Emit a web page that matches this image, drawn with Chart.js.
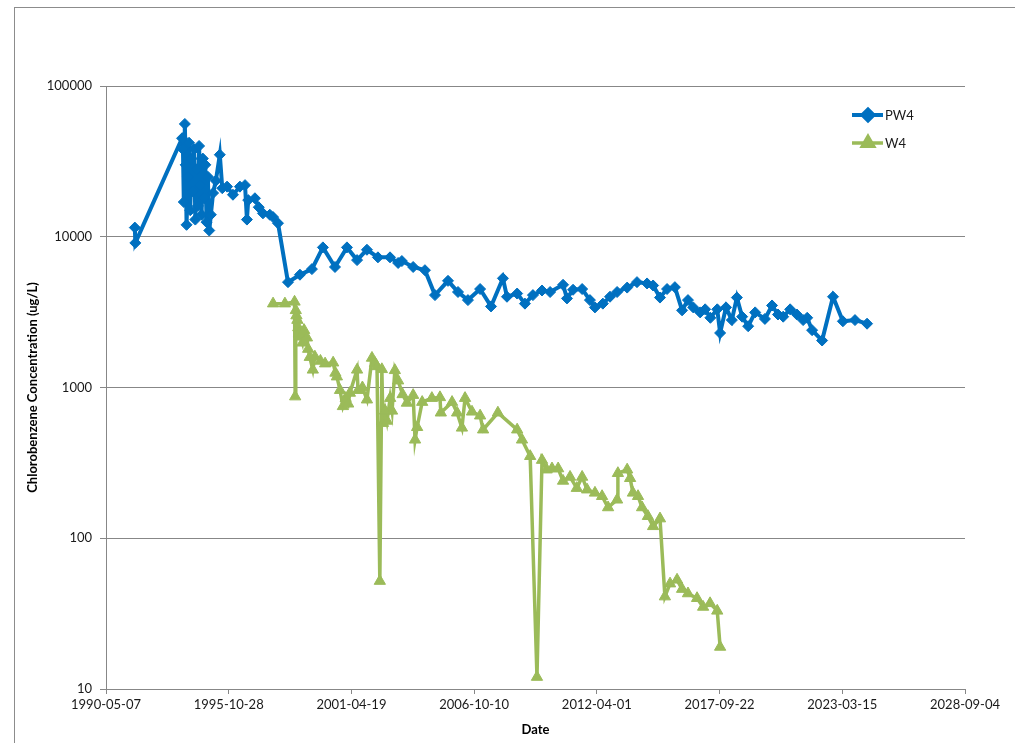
<!DOCTYPE html>
<html>
<head>
<meta charset="utf-8">
<script src="https://cdn.jsdelivr.net/npm/chart.js@4.4.1/dist/chart.umd.min.js"></script>
<style>
  html, body { margin: 0; padding: 0; background: #fff; }
  #wrap { width: 1015px; height: 743px; position: relative; }
  canvas { display: block; }
</style>
</head>
<body>
<div id="wrap"><canvas id="chart" width="1015" height="743"></canvas></div>
<script>
// Sampling dates and concentrations (ug/L) for well PW4
const pw4Dates = [
  "1991-08-20","1991-08-28","1993-09-28","1993-10-12","1993-10-26","1993-11-12","1993-11-26","1993-12-10",
  "1994-01-02","1994-01-20","1994-02-08","1994-03-01","1994-03-22","1994-04-12","1994-05-02","1994-05-22",
  "1994-06-12","1994-07-02","1994-07-22","1994-08-12","1994-09-01","1994-09-22","1994-10-12","1994-11-01",
  "1994-11-22","1994-12-15","1995-01-10","1995-02-15","1995-04-01","1995-06-05","1995-07-15","1995-10-01",
  "1996-01-05","1996-04-28","1996-07-20","1996-08-20","1996-09-10","1996-12-28","1997-03-01","1997-05-08",
  "1997-08-28","1997-10-20","1998-01-08","1998-06-20","1999-01-01","1999-07-15","2000-01-10","2000-07-25",
  "2001-02-05","2001-07-20","2001-12-28","2002-06-25","2003-01-08","2003-05-20","2003-07-20","2004-01-20",
  "2004-07-30","2005-01-10","2005-08-10","2006-01-20","2006-07-01","2007-01-15","2007-07-12","2008-01-22",
  "2008-03-28","2008-09-10","2009-01-15","2009-05-25","2009-10-20","2010-03-01","2010-09-28","2010-12-01",
  "2011-03-10","2011-08-05","2011-12-10","2012-03-01","2012-07-08","2012-11-01","2013-02-25","2013-08-08",
  "2014-01-15","2014-06-28","2014-10-05","2015-01-25","2015-05-20","2015-09-25","2016-01-20","2016-04-25",
  "2016-07-20","2016-11-10","2017-01-30","2017-04-25","2017-08-15","2017-10-01","2018-01-05","2018-04-10",
  "2018-07-01","2018-09-25","2019-01-01","2019-04-25","2019-10-01","2020-01-25","2020-05-01","2020-07-25",
  "2020-11-15","2021-03-05","2021-06-15","2021-08-20","2021-11-08","2022-04-20","2022-10-15","2023-03-25",
  "2023-10-08","2024-04-22"
];
const pw4Values = [
  11500, 9100, 45000, 38000, 17000, 56000, 30000, 12000,
  25000, 42000, 15000, 33000, 20000, 38000, 13000, 28000,
  16000, 40000, 22000, 14000, 33000, 18000, 30000, 12500,
  25000, 11000, 14000, 19500, 23500, 35000, 21000, 21500,
  19000, 21500, 22000, 13000, 17500, 18000, 15700, 14300,
  14000, 13500, 12300, 5000, 5600, 6100, 8500, 6300,
  8500, 7000, 8200, 7300, 7300, 6700, 6900, 6300,
  6000, 4100, 5100, 4300, 3800, 4500, 3450, 5300,
  4000, 4200, 3600, 4100, 4400, 4300, 4800, 3900,
  4450, 4500, 3800, 3400, 3600, 4000, 4300, 4600,
  5000, 4900, 4750, 3950, 4500, 4630, 3250, 3800,
  3400, 3150, 3300, 2900, 3300, 2300, 3400, 2800,
  3950, 2950, 2550, 3150, 2850, 3500, 3050, 2950,
  3300, 3050, 2800, 2900, 2400, 2050, 4000, 2750,
  2800, 2650
];

// Sampling dates and concentrations (ug/L) for well W4
const w4Dates = [
  "1997-10-20","1998-05-01","1998-10-05","1998-10-15","1998-10-25","1998-11-05","1998-11-20","1998-12-05",
  "1998-12-20","1999-01-10","1999-02-10","1999-03-10","1999-04-25","1999-05-15","1999-06-10","1999-07-30",
  "1999-09-01","1999-12-01","2000-02-15","2000-06-25","2000-08-01","2000-08-25","2000-10-15","2000-12-01",
  "2001-01-15","2001-02-25","2001-03-25","2001-07-20","2001-08-05","2001-10-15","2001-12-28","2002-03-20",
  "2002-05-10","2002-06-10","2002-07-26","2002-08-28","2002-09-15","2002-10-20","2002-11-20","2003-01-10",
  "2003-02-10","2003-03-28","2003-05-20","2003-08-01","2003-10-10","2004-01-20","2004-02-20","2004-03-25",
  "2004-06-15","2004-11-20","2005-04-01","2005-04-15","2005-10-15","2006-01-05","2006-03-25","2006-05-15",
  "2006-09-05","2007-01-15","2007-03-05","2007-11-01","2008-09-10","2008-11-28","2009-04-10","2009-07-30",
  "2009-10-20","2010-01-05","2010-04-01","2010-07-10","2010-09-28","2011-01-20","2011-05-10","2011-08-05",
  "2011-10-25","2012-03-01","2012-06-25","2012-10-01","2013-02-25","2013-03-10","2013-08-08","2013-09-25",
  "2013-11-10","2014-02-01","2014-04-08","2014-07-12","2014-10-05","2015-01-25","2015-04-15","2015-07-08",
  "2015-10-30","2016-01-20","2016-04-25","2016-09-20","2016-12-28","2017-04-20","2017-08-15","2017-10-01"
];
const w4Values = [
  3600, 3600, 3700, 870, 3250, 3000, 2800, 2500,
  2300, 2170, 1980, 2400, 2140, 1800, 1590, 1310,
  1600, 1500, 1440, 1460, 1250, 1180, 960, 750,
  850, 780, 920, 1310, 960, 1000, 830, 1570,
  1450, 1380, 52, 1320, 580, 700, 600, 850,
  700, 1300, 1110, 900, 790, 890, 450, 545,
  800, 850, 860, 680, 800, 680, 540, 850,
  690, 650, 525, 680, 525, 450, 350, 12,
  330, 285, 290, 290, 240, 255, 215, 255,
  210, 200, 190, 160, 180, 270, 285, 250,
  200, 190, 160, 140, 120, 135, 41, 50,
  53, 46, 43, 40, 35, 37, 33, 19
];

// Axis tick labels
const dateTicks = ["1990-05-07","1995-10-28","2001-04-19","2006-10-10","2012-04-01","2017-09-22","2023-03-15","2028-09-04"];
const concTicks = [10, 100, 1000, 10000, 100000];

const seriesNames = ["PW4", "W4"];

// Convert an ISO date to a spreadsheet-style day serial
function daySerial(iso) {
  const [y, m, d] = iso.split("-").map(Number);
  return Date.UTC(y, m - 1, d) / 86400000 + 25569;
}

const FONT = "Lato, 'Open Sans', 'Liberation Sans', sans-serif";
const AXIS_GRAY = "#878787";
const BLUE = "rgb(0,112,192)";
const GREEN = "rgb(155,187,89)";

const toPoints = (dates, values) => dates.map((d, i) => ({ x: daySerial(d), y: values[i] }));

// Outer frame of the chart
const framePlugin = {
  id: "frame",
  beforeDraw(chart) {
    const ctx = chart.ctx;
    ctx.save();
    ctx.fillStyle = "#fff";
    ctx.fillRect(0, 0, chart.width, chart.height);
    ctx.strokeStyle = "#8c8c8c";
    ctx.lineWidth = 1;
    ctx.strokeRect(14.5, 7.5, 1100, 800);
    ctx.restore();
  }
};

// Legend drawn inside the upper-right of the plot area
const insideLegend = {
  id: "insideLegend",
  afterDraw(chart) {
    const ctx = chart.ctx;
    ctx.save();
    chart.data.datasets.forEach((ds, i) => {
      const y = 115 + i * 28;
      ctx.strokeStyle = ds.borderColor;
      ctx.lineWidth = ds.borderWidth;
      ctx.beginPath();
      ctx.moveTo(852, y);
      ctx.lineTo(883, y);
      ctx.stroke();
      Chart.helpers.drawPoint(ctx, {
        pointStyle: ds.pointStyle,
        radius: ds.pointRadius,
        borderWidth: 1,
        rotation: 0
      }, 868, y);
      ctx.fillStyle = ds.borderColor;
      ctx.fill();
      ctx.fillStyle = "#1a1a1a";
      ctx.font = "13px " + FONT;
      ctx.textBaseline = "middle";
      ctx.textAlign = "left";
      ctx.fillText(ds.label, 885, y + 1);
    });
    ctx.restore();
  }
};

new Chart(document.getElementById("chart"), {
  type: "line",
  data: {
    datasets: [
      {
        label: seriesNames[0],
        data: toPoints(pw4Dates, pw4Values),
        borderColor: BLUE,
        backgroundColor: BLUE,
        borderWidth: 4,
        pointStyle: "rectRot",
        pointRadius: 5.5,
        pointBorderWidth: 1,
        pointBackgroundColor: BLUE,
        pointBorderColor: BLUE,
        tension: 0
      },
      {
        label: seriesNames[1],
        data: toPoints(w4Dates, w4Values),
        borderColor: GREEN,
        backgroundColor: GREEN,
        borderWidth: 3.5,
        pointStyle: "triangle",
        pointRadius: 6.5,
        pointBorderWidth: 1,
        pointBackgroundColor: GREEN,
        pointBorderColor: GREEN,
        tension: 0
      }
    ]
  },
  options: {
    responsive: false,
    devicePixelRatio: 1,
    animation: false,
    layout: { padding: { top: 86, right: 50, bottom: 0, left: 0 } },
    plugins: {
      legend: { display: false },
      tooltip: { enabled: false }
    },
    scales: {
      x: {
        type: "linear",
        min: daySerial(dateTicks[0]),
        max: daySerial(dateTicks[dateTicks.length - 1]),
        afterBuildTicks(scale) {
          scale.ticks = dateTicks.map(d => ({ value: daySerial(d) }));
        },
        afterFit(scale) { scale.height = 54; },
        ticks: {
          autoSkip: false,
          maxRotation: 0,
          padding: 3,
          color: "#1a1a1a",
          font: { family: FONT, size: 13 },
          callback: (value, index) => dateTicks[index]
        },
        grid: { drawOnChartArea: false, drawTicks: true, tickLength: 5, color: AXIS_GRAY },
        border: { display: true, color: AXIS_GRAY, width: 1 },
        title: {
          display: true,
          text: "Date",
          color: "#000",
          font: { family: FONT, size: 13, weight: "bold" },
          padding: { top: 5, bottom: 5 }
        }
      },
      y: {
        type: "logarithmic",
        min: concTicks[0],
        max: concTicks[concTicks.length - 1],
        afterBuildTicks(scale) {
          scale.ticks = concTicks.map(v => ({ value: v }));
        },
        afterFit(scale) { scale.width = 106; },
        ticks: {
          padding: 8,
          color: "#1a1a1a",
          font: { family: FONT, size: 13 },
          callback: (value) => String(value)
        },
        grid: { color: AXIS_GRAY, drawTicks: true, tickLength: 6, lineWidth: 1 },
        border: { display: true, color: AXIS_GRAY, width: 1 },
        title: {
          display: true,
          text: "Chlorobenzene Concentration (ug/L)",
          color: "#000",
          font: { family: FONT, size: 13, weight: "bold" },
          padding: { top: 25, bottom: 25 }
        }
      }
    }
  },
  plugins: [framePlugin, insideLegend]
});
</script>
</body>
</html>
